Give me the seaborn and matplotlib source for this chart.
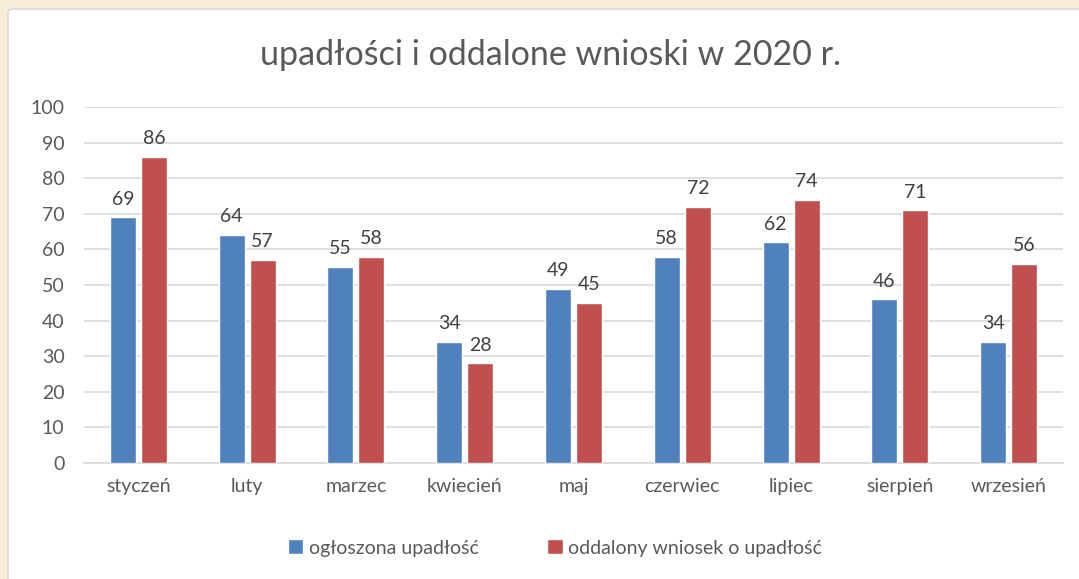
import numpy as np
import pandas as pd
import matplotlib
matplotlib.use("Agg")
import matplotlib.pyplot as plt
import seaborn as sns
from matplotlib.patches import FancyBboxPatch

months = ["styczeń", "luty", "marzec", "kwiecień", "maj", "czerwiec", "lipiec", "sierpień", "wrzesień"]
ogloszona = [69, 64, 55, 34, 49, 58, 62, 46, 34]
oddalony = [86, 57, 58, 28, 45, 72, 74, 71, 56]
series_names = ["ogłoszona upadłość", "oddalony wniosek o upadłość"]

df = pd.DataFrame({
    "miesiac": months * 2,
    "wartosc": ogloszona + oddalony,
    "seria": [series_names[0]] * len(months) + [series_names[1]] * len(months),
})

sns.set_style("white")
plt.rcParams["font.family"] = ["Lato", "DejaVu Sans"]

text_col = "#595959"
fig = plt.figure(figsize=(10.79, 5.79), dpi=100, facecolor="#F8EED8")
# white chart area with thin border
fig.patches.append(FancyBboxPatch((8 / 1079, -0.05), 1.1, 1 - 9 / 579 + 0.05,
                                  boxstyle="round,pad=0,rounding_size=0.005",
                                  transform=fig.transFigure, facecolor="white",
                                  edgecolor="#D9D9D9", linewidth=1.2, zorder=-5))

ax = fig.add_axes([84 / 1079, 1 - 463 / 579, (1063 - 84) / 1079, (463 - 107) / 579])
ax.set_zorder(2)
ax.set_facecolor("none")

sns.barplot(data=df, x="miesiac", y="wartosc", hue="seria", ax=ax,
            palette=["#4F81BD", "#C0504D"], width=0.57, gap=0.16,
            saturation=1, errorbar=None, zorder=3)

for cont in ax.containers:
    ax.bar_label(cont, padding=7, fontsize=14, color="#404040")

ax.set_ylim(0, 100)
ax.set_yticks(range(0, 101, 10))
ax.set_xlim(-0.5, len(months) - 0.5)
ax.grid(axis="y", color="#D9D9D9", linewidth=1.2, zorder=0)
ax.set_axisbelow(True)
for s in ["top", "right", "left"]:
    ax.spines[s].set_visible(False)
ax.spines["bottom"].set_color("#D9D9D9")
ax.spines["bottom"].set_linewidth(1.2)
ax.tick_params(axis="both", length=0, labelsize=14, labelcolor=text_col)
ax.tick_params(axis="x", pad=11)
ax.tick_params(axis="y", pad=14)
ax.set_xlabel("")
ax.set_ylabel("")

fig.text(550 / 1079, 1 - 55 / 579, "upadłości i oddalone wnioski w 2020 r.", ha="center", va="center",
         fontsize=24.5, color=text_col)

handles, labels = ax.get_legend_handles_labels()
ax.legend_.remove()
fig.legend(handles, labels, loc="center", bbox_to_anchor=(555 / 1079, 1 - 548 / 579), ncol=2,
           frameon=False, fontsize=14, labelcolor=text_col, handlelength=0.8, handleheight=0.8,
           handletextpad=0.3, columnspacing=3.5)

fig.savefig("out.png", dpi=100, facecolor=fig.get_facecolor())
